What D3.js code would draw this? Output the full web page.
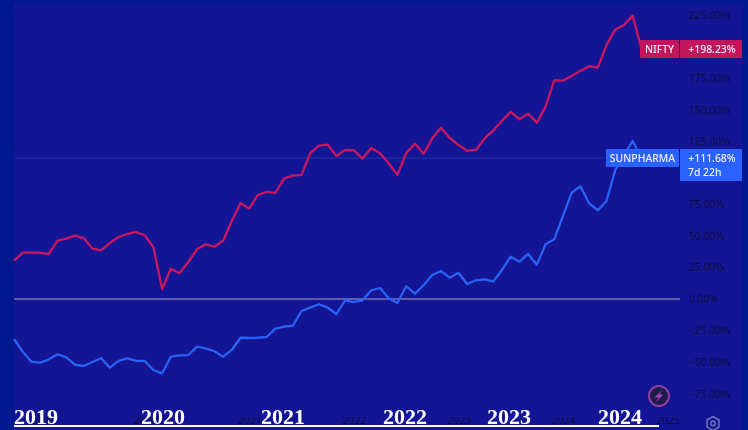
<!DOCTYPE html>
<html>
<head>
<meta charset="utf-8">
<script src="https://cdn.jsdelivr.net/npm/d3@7"></script>
<style>
    html, body { margin: 0; padding: 0; background: #00188f; }
    svg { display: block; }
    .ui { font-family: "Noto Sans", sans-serif; }
</style>
</head>
<body>
<svg id="chart"></svg>
<script>
const config = {
    width: 748,
    height: 430,
    left: 14,
    top: 4,
    right: 743,
    plotRight: 680,
    step: 8.714
};

// percent change since the first month
const months = d3.timeMonth.range(new Date(2018, 9, 1), new Date(2025, 1, 1)).map(d3.timeFormat("%Y-%m"));

const nifty = [30.3, 36.7, 36.7, 36.5, 35.7, 46.2, 47.8, 50.2, 48.3, 39.9, 38.6, 44.4, 49.1, 51.5, 53.1, 50.5, 41.0, 7.9,
    24.0, 20.4, 29.3, 39.4, 43.3, 41.4, 46.2, 62.0, 75.8, 71.6, 82.6, 84.8, 84.0, 95.6, 97.7, 98.3, 115.5, 121.5,
    122.3, 113.3, 118.1, 117.8, 111.2, 119.7, 115.5, 107.5, 98.3, 115.5, 123.1, 115.1, 127.3, 135.7, 127.6, 122.0,
    117.5, 117.9, 127.2, 133.4, 141.3, 148.2, 142.4, 146.8, 139.7, 152.4, 173.3, 173.0, 176.7, 180.9, 184.4, 183.3,
    201.3, 213.4, 217.1, 224.5, 198.23];

const sunpharma = [-31.7, -41.8, -49.7, -50.5, -47.8, -43.8, -46.2, -52.1, -53.1, -49.9, -47.0, -54.4, -49.1, -47.0, -49.1,
    -49.1, -56.3, -58.9, -45.7, -44.6, -44.4, -37.8, -39.1, -41.4, -45.7, -40.2, -30.7, -30.9, -30.7, -30.1, -23.5,
    -21.9, -21.2, -9.5, -6.9, -4.2, -6.9, -11.9, -1.0, -2.4, -1.0, 6.9, 8.7, 0.6, -3.2, 10.1, 4.2, 10.9, 19.0, 22.2,
    16.9, 20.8, 11.9, 14.8, 15.6, 13.9, 23.0, 33.5, 29.6, 35.7, 27.2, 43.3, 47.3, 65.8, 84.2, 89.3, 75.8, 70.3, 77.7,
    102.2, 114.1, 125.2, 111.68];

// 200% and 100% sit behind the badges in the reference, so they are left out
const yTicks = [225, 175, 150, 125, 75, 50, 25, 0, -25, -50, -75];
const yearTicks = ["2019-01", "2020-01", "2021-01", "2022-01", "2023-01", "2024-01", "2025-01"];
const yearLabels = ["2019", "2020", "2021", "2022", "2023", "2024"];
const yearLabelX = [36, 163, 283, 405, 509, 620];

const x = d3.scalePoint()
    .domain(months)
    .range([config.left, config.left + config.step * (months.length - 1)]);
const y = d3.scaleLinear().domain([-75, 225]).range([393.65, 15]);

const svg = d3.select("#chart")
    .attr("width", config.width)
    .attr("height", config.height);

const defs = svg.append("defs");

defs.append("clipPath").attr("id", "plot-clip")
    .append("rect")
    .attr("x", config.left)
    .attr("y", 0)
    .attr("width", config.plotRight - config.left - 1)
    .attr("height", config.height);

// the reference is a soft, upscaled screenshot
defs.append("filter").attr("id", "soft")
    .attr("x", "-5%").attr("y", "-5%").attr("width", "110%").attr("height", "110%")
    .append("feGaussianBlur")
    .attr("stdDeviation", 0.45);

svg.append("rect")
    .attr("x", config.left)
    .attr("y", config.top)
    .attr("width", config.right - config.left)
    .attr("height", config.height - config.top)
    .attr("fill", "#131594");

const shot = svg.append("g").attr("filter", "url(#soft)");

// last value line and zero line
shot.append("line")
    .attr("x1", config.left).attr("x2", config.plotRight)
    .attr("y1", y(111.68)).attr("y2", y(111.68))
    .attr("stroke", "#2430a6")
    .attr("stroke-width", 1);

shot.append("line")
    .attr("x1", config.left).attr("x2", config.plotRight)
    .attr("y1", y(0)).attr("y2", y(0))
    .attr("stroke", "#5e5cb0")
    .attr("stroke-width", 2);

const line = d3.line()
    .x((d, i) => x(months[i]))
    .y(d => y(d));

shot.append("path")
    .datum(sunpharma)
    .attr("d", line)
    .attr("fill", "none")
    .attr("stroke", "#2962f5")
    .attr("stroke-width", 2.3)
    .attr("stroke-linejoin", "round");

shot.append("path")
    .datum(nifty)
    .attr("d", line)
    .attr("fill", "none")
    .attr("stroke", "#c9185c")
    .attr("stroke-width", 2.3)
    .attr("stroke-linejoin", "round");

// right axis
const yAxis = d3.axisRight(y)
    .tickValues(yTicks)
    .tickSize(0)
    .tickPadding(0)
    .tickFormat(d => (d < 0 ? "\u2212" + Math.abs(d).toFixed(2) : d.toFixed(2)) + "%");

shot.append("g")
    .attr("class", "y-axis")
    .attr("transform", "translate(688.5, 0)")
    .call(yAxis)
    .call(g => g.select(".domain").remove())
    .call(g => g.selectAll("text")
        .attr("fill", "#0e0e40")
        .attr("font-size", 10.5)
        .attr("font-family", "Noto Sans"));

// bottom axis
const xAxis = d3.axisBottom(x)
    .tickValues(yearTicks)
    .tickSize(0)
    .tickPadding(0)
    .tickFormat(d => d.slice(0, 4));

shot.append("g")
    .attr("class", "x-axis")
    .attr("clip-path", "url(#plot-clip)")
    .attr("transform", "translate(0, 417)")
    .call(xAxis)
    .call(g => g.select(".domain").remove())
    .call(g => g.selectAll("text")
        .attr("fill", "#0e0e40")
        .attr("font-size", 10.5)
        .attr("font-family", "Noto Sans"));

// badges
function badge (bx, by, w, h, color) {
    shot.append("rect")
        .attr("x", bx).attr("y", by)
        .attr("width", w).attr("height", h)
        .attr("rx", 1)
        .attr("fill", color);
}

function badgeText (tx, ty, label, anchor) {
    shot.append("text")
        .attr("class", "ui")
        .attr("x", tx).attr("y", ty)
        .attr("text-anchor", anchor || "middle")
        .attr("fill", "#f3eefc")
        .attr("font-size", 10.4)
        .attr("font-weight", 500)
        .text(label);
}

badge(640, 40, 39, 18, "#c2185b");
badge(680, 40, 62, 18, "#c2185b");
badgeText(659.5, 53, "NIFTY");
badgeText(712, 53, "+198.23%");

badge(606, 149, 73, 18, "#2962ff");
badge(680, 149, 62, 32, "#2962ff");
badgeText(642.5, 162, "SUNPHARMA");
badgeText(712, 162, "+111.68%");
badgeText(688, 176, "7d 22h", "start");

// lightning button
shot.append("circle")
    .attr("cx", 659).attr("cy", 396).attr("r", 10)
    .attr("fill", "#1c1a4c")
    .attr("stroke", "#8a3f9c")
    .attr("stroke-width", 2);
shot.append("path")
    .attr("d", "M662 390L654.5 397.5L658.5 397.5L656 402L663.5 394.5L659.5 394.5Z")
    .attr("fill", "#a144b4");

// settings gear
shot.append("path")
    .attr("d", "M713 416.5L719 420L719 427L713 430.5L707 427L707 420Z")
    .attr("fill", "none")
    .attr("stroke", "#6f74b8")
    .attr("stroke-width", 1.5);
shot.append("circle")
    .attr("cx", 713).attr("cy", 423.5).attr("r", 2.2)
    .attr("fill", "none")
    .attr("stroke", "#6f74b8")
    .attr("stroke-width", 1.5);

// year captions written over the chart
svg.selectAll(".year-label")
    .data(yearLabels)
    .enter()
    .append("text")
    .attr("class", "year-label")
    .attr("x", (d, i) => yearLabelX[i])
    .attr("y", 424)
    .attr("text-anchor", "middle")
    .attr("fill", "#ffffff")
    .attr("font-family", "Liberation Serif")
    .attr("font-weight", "bold")
    .attr("font-size", 22)
    .text(d => d);

svg.append("line")
    .attr("x1", config.left).attr("x2", 659)
    .attr("y1", 426).attr("y2", 426)
    .attr("stroke", "#ffffff")
    .attr("stroke-width", 2);
</script>
</body>
</html>
